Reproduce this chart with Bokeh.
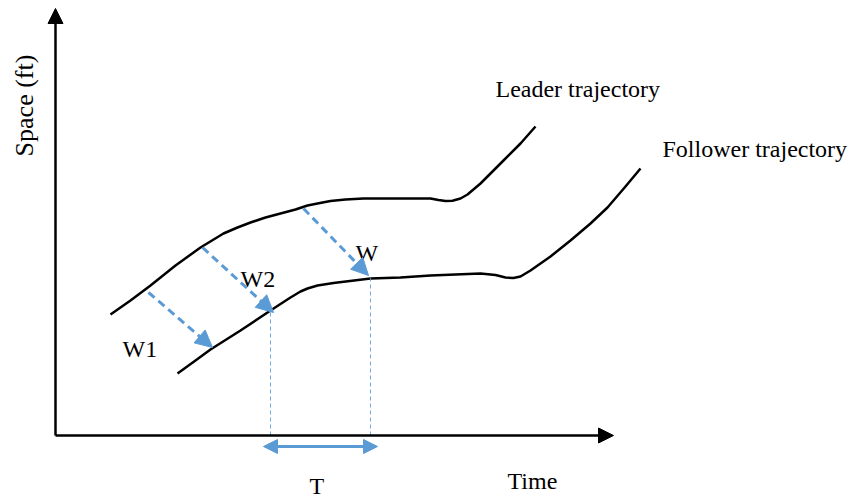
import math
from bokeh.plotting import figure
from bokeh.models import Range1d, Arrow, NormalHead, ColumnDataSource
from bokeh.core.properties import value
from bokeh.embed import file_html
from bokeh.resources import INLINE

# Leader trajectory (time, space)
leader_t = [55, 75, 95, 120, 145, 168, 182, 195, 210, 225, 240, 252, 262, 275, 290, 308, 345, 375, 383, 390, 397, 405, 412, 425, 438, 448, 465, 480]
leader_s = [121, 135, 150, 170, 188, 202, 208, 213, 218, 222, 226, 230, 232, 234.5, 236, 237, 237, 237, 235.5, 234.5, 234.8, 237, 241, 252, 265, 275, 292, 309]

# Follower trajectory (time, space)
follower_t = [122, 140, 155, 185, 215, 235, 245, 252, 262, 278, 315, 345, 375, 425, 440, 450, 458, 465, 475, 495, 515, 535, 552, 570, 585]
follower_s = [62, 75, 86, 105, 125, 138, 144, 147, 150, 152.5, 157, 158, 160, 162, 160.5, 158, 157.5, 159, 165, 179, 195, 212, 228, 249, 267]

# Wave arrows (leader point -> follower point)
wave_labels = ["W1", "W2", "W"]
wave_t0 = [93, 147, 248]
wave_s0 = [143, 188, 227]
wave_t1 = [157, 218, 313]
wave_s1 = [88, 123, 160]

# Projection lines to the time axis
proj_t = [215, 315]
proj_s = [123, 158]

# Headway T
T_start, T_end, T_level = 208, 322, -11

# Axis extents
axis_t_max = 558
axis_s_max = 427

BLUE = "#5B9BD5"
FONT = value("Liberation Serif")
SIZE = value("24px")

p = figure(width=850, height=498, x_range=Range1d(-55, 795), y_range=Range1d(-63, 435),
           x_axis_type=None, y_axis_type=None, output_backend="svg", toolbar_location=None,
           min_border=0, min_border_left=0, min_border_right=0, min_border_top=0, min_border_bottom=0)
p.outline_line_color = None
p.grid.visible = False
p.background_fill_color = "white"

# axes with arrow heads
p.add_layout(Arrow(end=NormalHead(size=15, fill_color="black", line_color="black"),
                   x_start=0, y_start=0, x_end=0, y_end=axis_s_max,
                   line_color="black", line_width=2.5))
p.add_layout(Arrow(end=NormalHead(size=15, fill_color="black", line_color="black"),
                   x_start=0, y_start=0, x_end=axis_t_max, y_end=0,
                   line_color="black", line_width=2.5))

# trajectories
p.line(leader_t, leader_s, line_color="black", line_width=2.5, line_join="round")
p.line(follower_t, follower_s, line_color="black", line_width=2.5, line_join="round")

# projection lines
for t, s in zip(proj_t, proj_s):
    p.line([t, t], [s, 0], line_color=BLUE, line_width=1, line_dash="4 3", line_alpha=0.85)

# wave arrows
wsrc = ColumnDataSource(dict(x0=wave_t0, y0=wave_s0, x1=wave_t1, y1=wave_s1))
p.add_layout(Arrow(end=NormalHead(size=17, fill_color=BLUE, line_color=BLUE),
                   source=wsrc, x_start="x0", y_start="y0", x_end="x1", y_end="y1",
                   line_color=BLUE, line_width=3, line_dash="8 5"))

# T double arrow
p.add_layout(Arrow(start=NormalHead(size=14, fill_color=BLUE, line_color=BLUE),
                   end=NormalHead(size=14, fill_color=BLUE, line_color=BLUE),
                   x_start=T_start, y_start=T_level, x_end=T_end, y_end=T_level,
                   line_color=BLUE, line_width=3))

# labels
lbl_x = [440, 607, 67, 185, 300, 452, 254]
lbl_y = [347, 287, 87, 157, 183, -45, -50]
lbl_text = ["Leader trajectory", "Follower trajectory", "W1", "W2", "W", "Time", "T"]
p.text(x=lbl_x, y=lbl_y, text=lbl_text, text_font=FONT, text_font_size=SIZE,
       text_color="black", text_align="left", text_baseline="alphabetic")

p.text(x=[-31], y=[330], text=["Space (ft)"], angle=math.pi / 2, text_font=FONT,
       text_font_size=value("26px"), text_color="black", text_align="center", text_baseline="middle")

open("out.html", "w").write(file_html(p, INLINE))
